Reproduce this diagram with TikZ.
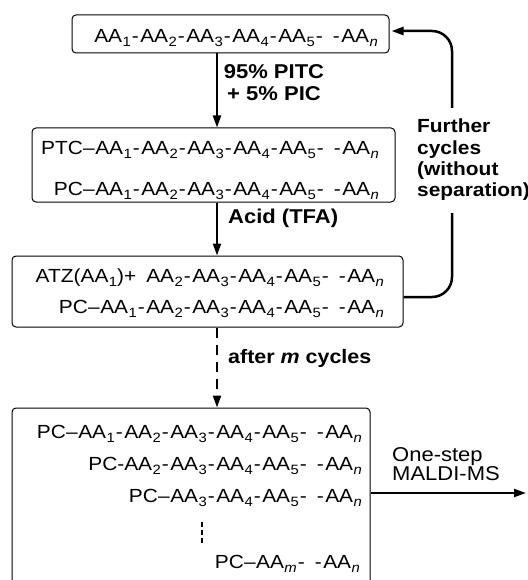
\documentclass[tikz,border=0pt]{standalone}
\usepackage{fontspec}
\setmainfont{Liberation Sans}[FakeStretch=1.1]
\usetikzlibrary{arrows.meta,positioning}

% residue with subscript, hyphen and the chain break
\newcommand\AAs[1]{AA\kern0.4pt\raisebox{-4pt}{\fontsize{13.5}{13.5}\selectfont#1}}
\newcommand\hy{\kern1pt-\kern1.5pt}
\newcommand\gp{\kern1pt-\kern10pt-\kern1.5pt}
\newcommand\nd{\kern0.2pt--\kern0.5pt}

\tikzset{
  box/.style={draw, line width=1pt, rounded corners=4pt, inner sep=0pt},
  row/.style={inner sep=0pt, anchor=base east, font=\fontsize{19}{20}\selectfont},
  lab/.style={inner sep=0pt, font=\bfseries\fontsize{20}{22}\selectfont},
  arr/.style={line width=2pt, -{Triangle[length=12pt,width=8pt]}},
  fb/.style={line width=2.5pt, rounded corners=20pt},
}

\begin{document}
\begin{tikzpicture}[x=1pt,y=-1pt]
  \useasboundingbox (0,0) rectangle (527,580);
  \clip (0,0) rectangle (527,580);
  \coordinate (axis) at (217,0);
  \coordinate (fbx) at (452,0);
  \coordinate (out) at (526,493);

  % boxes
  \node[box, minimum width=317pt, minimum height=38pt] (b1) at (230.5,34) {};
  \node[box, minimum width=363pt, minimum height=74pt] (b2) at (213.5,165) {};
  \node[box, minimum width=391pt, minimum height=71pt] (b3) at (207.5,291.5) {};
  \node[box, minimum width=358pt, minimum height=192pt] (b4) at (191,504) {};

  % rows
  \node[row] (r1) at (378,43) {\AAs1\hy\AAs2\hy\AAs3\hy\AAs4\hy\AAs5\gp\AAs{\textit{n}}};
  \node[row] (r2a) at (379,155) {PTC\nd\AAs1\hy\AAs2\hy\AAs3\hy\AAs4\hy\AAs5\gp\AAs{\textit{n}}};
  \node[row] (r2b) at (379,195) {PC\nd\AAs1\hy\AAs2\hy\AAs3\hy\AAs4\hy\AAs5\gp\AAs{\textit{n}}};
  \node[row] (r3a) at (384,282) {ATZ(\AAs1)+\kern10pt\AAs2\hy\AAs3\hy\AAs4\hy\AAs5\gp\AAs{\textit{n}}};
  \node[row] (r3b) at (384,313) {PC\nd\AAs1\hy\AAs2\hy\AAs3\hy\AAs4\hy\AAs5\gp\AAs{\textit{n}}};
  \node[row] (r4a) at (362,438) {PC\nd\AAs1\hy\AAs2\hy\AAs3\hy\AAs4\hy\AAs5\gp\AAs{\textit{n}}};
  \node[row] (r4b) at (362,470) {PC-\AAs2\hy\AAs3\hy\AAs4\hy\AAs5\gp\AAs{\textit{n}}};
  \node[row] (r4c) at (362,502) {PC\nd\AAs3\hy\AAs4\hy\AAs5\gp\AAs{\textit{n}}};
  \node[row] (r4m) at (360,568) {PC\nd\AAs{\textit{m}}\gp\AAs{\textit{n}}};
  \draw[line width=2pt, dash pattern=on 5pt off 3pt] (202,522) -- (202,543);

  % labels
  \node[lab, align=center, anchor=north] (reag) at (274,64) {95\% PITC\\+ 5\% PIC};
  \node[lab, anchor=base west] (acid) at (228,223) {Acid (TFA)};
  \node[lab, anchor=base west, font=\bfseries\fontsize{19.5}{20}\selectfont] (after) at (228,363) {after \textit{m} cycles};
  \node[inner sep=0pt, align=left, anchor=south west, font=\fontsize{20}{18}\selectfont] (maldi) at (392,481) {One-step\\MALDI-MS};
  \node[lab, align=left, anchor=north west, font=\bfseries\fontsize{19}{21.3}\selectfont] (further) at (417,119) {Further\\cycles\\(without\\separation)};

  % connectors
  \draw[arr] (b1.south -| axis) -- (b2.north -| axis);
  \draw[arr] (b2.south -| axis) -- (b3.north -| axis);
  \draw[arr, dash pattern=on 10pt off 7pt] (b3.south -| axis) -- (b4.north -| axis);
  \draw[arr] (b4.east |- out) -- (out);
  \draw[fb, -{Triangle[length=12pt,width=8pt]}, shorten >=2pt] ([yshift=11pt]further.north -| fbx) |- ([yshift=3pt]b1.east);
  \draw[fb] ([yshift=-5.5pt]b3.east) -| ([yshift=-12pt]further.south -| fbx);
\end{tikzpicture}
\end{document}
